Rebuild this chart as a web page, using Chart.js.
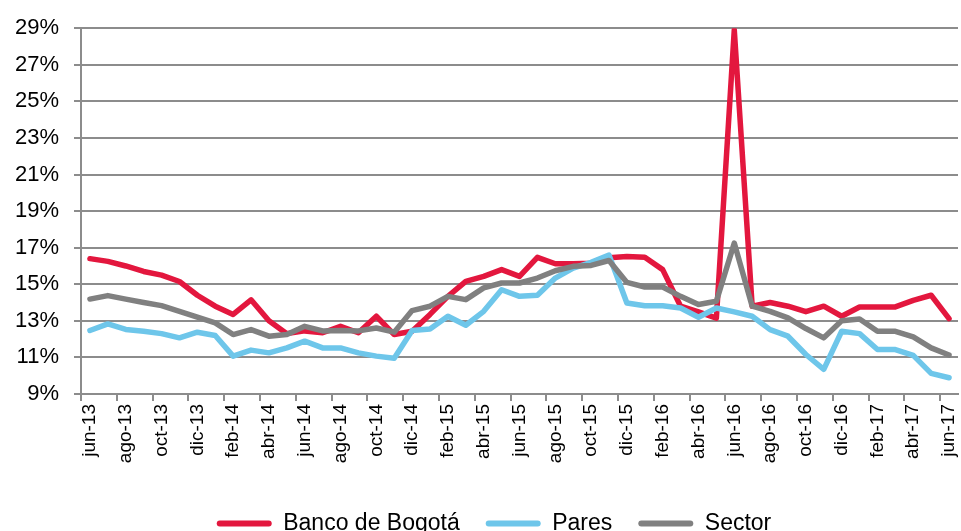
<!DOCTYPE html>
<html>
<head>
<meta charset="utf-8">
<script src="https://cdn.jsdelivr.net/npm/chart.js@4.4.1/dist/chart.umd.min.js"></script>
<style>
  html, body { margin: 0; padding: 0; background: #fff; overflow: hidden; }
  #wrap { width: 961px; height: 531px; overflow: hidden; position: relative; }
  canvas { display: block; }
</style>
</head>
<body>
<div id="wrap"><canvas id="chart" width="961" height="545"></canvas></div>
<script>
// ===== datos (jun-13 .. jun-17, mensual) =====
const categories = [
  'jun-13','jul-13','ago-13','sep-13','oct-13','nov-13','dic-13','ene-14','feb-14','mar-14','abr-14','may-14',
  'jun-14','jul-14','ago-14','sep-14','oct-14','nov-14','dic-14','ene-15','feb-15','mar-15','abr-15','may-15',
  'jun-15','jul-15','ago-15','sep-15','oct-15','nov-15','dic-15','ene-16','feb-16','mar-16','abr-16','may-16',
  'jun-16','jul-16','ago-16','sep-16','oct-16','nov-16','dic-16','ene-17','feb-17','mar-17','abr-17','may-17',
  'jun-17'
];

const bancoBogota = [
  16.40, 16.25, 16.00, 15.70, 15.50, 15.15, 14.40, 13.80, 13.35, 14.15, 13.00, 12.30,
  12.45, 12.35, 12.70, 12.35, 13.25, 12.25, 12.43, 13.35, 14.34, 15.16, 15.43, 15.80,
  15.43, 16.47, 16.12, 16.12, 16.15, 16.45, 16.52, 16.48, 15.80, 13.80, 13.49, 13.15,
  28.90, 13.80, 14.00, 13.80, 13.50, 13.80, 13.25, 13.76, 13.76, 13.76, 14.12, 14.40,
  13.12
];

const pares = [
  12.47, 12.83, 12.53, 12.43, 12.30, 12.07, 12.38, 12.20, 11.07, 11.40, 11.25, 11.52,
  11.89, 11.52, 11.52, 11.25, 11.07, 10.95, 12.47, 12.56, 13.25, 12.76, 13.52, 14.70,
  14.34, 14.40, 15.34, 15.88, 16.20, 16.60, 13.98, 13.83, 13.83, 13.70, 13.20, 13.70,
  13.49, 13.25, 12.52, 12.16, 11.16, 10.35, 12.43, 12.30, 11.43, 11.43, 11.11, 10.13,
  9.89
];

const sector = [
  14.19, 14.38, 14.19, 14.00, 13.83, 13.52, 13.20, 12.89, 12.25, 12.52, 12.16, 12.25,
  12.70, 12.45, 12.47, 12.45, 12.61, 12.38, 13.56, 13.80, 14.34, 14.16, 14.80, 15.07,
  15.07, 15.34, 15.74, 15.98, 16.03, 16.30, 15.10, 14.85, 14.85, 14.34, 13.89, 14.07,
  17.25, 13.80, 13.52, 13.16, 12.58, 12.07, 13.00, 13.10, 12.43, 12.43, 12.12, 11.52,
  11.13
];

const yTicks = [9, 11, 13, 15, 17, 19, 21, 23, 25, 27, 29];

const gridColor = '#8c8c8c';
const FONT = "'Liberation Sans', Arial, sans-serif";

function serie(label, data, color, order) {
  return {
    label, data, order,
    borderColor: color,
    backgroundColor: color,
    borderWidth: 5.5,
    pointRadius: 0,
    pointHoverRadius: 0,
    tension: 0,
    borderJoinStyle: 'round',
    borderCapStyle: 'round'
  };
}

// la leyenda del original no esta centrada exacta, la corro un poco a la derecha
const shiftLegend = {
  id: 'shiftLegend',
  afterLayout(chart) {
    chart.legend.left += 15;
    chart.legend.right += 15;
  }
};

new Chart(document.getElementById('chart'), {
  type: 'line',
  data: {
    labels: categories,
    datasets: [
      serie('Banco de Bogotá', bancoBogota, '#e3173e', 2),
      serie('Pares', pares, '#6ec6ea', 1),
      serie('Sector', sector, '#808080', 0)
    ]
  },
  plugins: [shiftLegend],
  options: {
    responsive: false,
    animation: false,
    layout: { padding: { top: 26, right: 3, left: 0, bottom: 0 } },
    plugins: {
      tooltip: { enabled: false },
      legend: {
        position: 'bottom',
        labels: {
          color: '#000',
          font: { family: FONT, size: 23 },
          boxWidth: 55,
          boxHeight: 6,
          padding: 26,
          useBorderRadius: true,
          borderRadius: 3,
          sort: (a, b) => a.datasetIndex - b.datasetIndex,
          generateLabels: (chart) =>
            Chart.defaults.plugins.legend.labels.generateLabels(chart).map(it => ({ ...it, lineWidth: 0 }))
        }
      }
    },
    scales: {
      x: {
        offset: true,
        afterFit: (scale) => {
          scale.height = 92;
          scale.paddingLeft = 0;
          scale.paddingRight = 0;
        },
        grid: {
          offset: true,
          drawOnChartArea: false,
          drawTicks: true,
          tickLength: 7,
          lineWidth: 2,
          color: (c) => (c.index % 2 === 0 ? gridColor : 'transparent')
        },
        border: { display: true, color: gridColor, width: 2 },
        ticks: {
          autoSkip: false,
          minRotation: 90,
          maxRotation: 90,
          padding: 3,
          color: '#000',
          font: { family: FONT, size: 19 },
          callback: function (v, i) { return i % 2 === 0 ? categories[i] : ''; }
        }
      },
      y: {
        min: yTicks[0],
        max: yTicks[yTicks.length - 1],
        afterFit: (scale) => { scale.width = 81; },
        afterBuildTicks: (scale) => { scale.ticks = yTicks.map(v => ({ value: v })); },
        grid: { color: gridColor, lineWidth: 2, tickLength: 7 },
        border: { display: true, color: gridColor, width: 2 },
        ticks: {
          padding: 15,
          color: '#000',
          font: { family: FONT, size: 22 },
          callback: (v) => v + '%'
        }
      }
    }
  }
});
</script>
</body>
</html>
